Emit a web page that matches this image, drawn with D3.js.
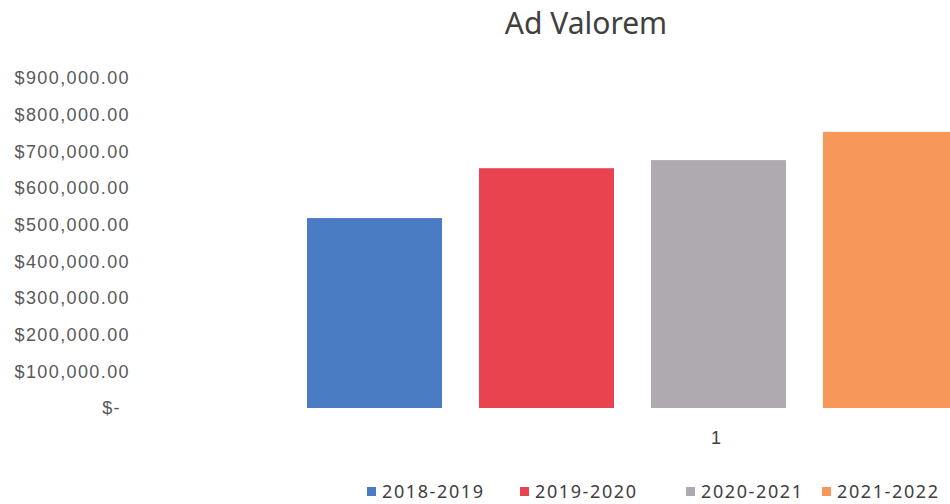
<!DOCTYPE html>
<html>
<head>
<meta charset="utf-8">
<script src="https://cdn.jsdelivr.net/npm/d3@7"></script>
<style>
  body { margin: 0; background: #fff; }
  svg { display: block; font-family: "Noto Sans", "Open Sans", sans-serif; }
</style>
</head>
<body>
<svg id="chart" width="950" height="504"></svg>
<script>
var categories = ["1"];
var seriesNames = ["2018-2019", "2019-2020", "2020-2021", "2021-2022"];
var seriesValues = [518000, 654000, 676000, 753000];
var seriesColors = ["#4a7cc4", "#e8434f", "#aeaab0", "#f7975a"];
var yTicks = [0, 100000, 200000, 300000, 400000, 500000, 600000, 700000, 800000, 900000];

var svg = d3.select("#chart");

var yScale = d3.scaleLinear()
    .domain([0, 900000])
    .range([408, 78]);

// category axis, the plot runs past the right edge of the picture
var xScale = d3.scaleBand()
    .domain(categories)
    .range([190, 1242]);

var barScale = d3.scaleBand()
    .domain(seriesNames)
    .range([307, 958])
    .paddingInner(0.215);

var fmt = d3.format(",.2f");

svg.append("text")
    .attr("x", 586)
    .attr("y", 34)
    .attr("text-anchor", "middle")
    .style("font-size", "30px")
    .style("fill", "#404040")
    .text("Ad Valorem");

var yAxis = d3.axisLeft(yScale)
    .tickValues(yTicks)
    .tickSize(0)
    .tickPadding(0)
    .tickFormat(function (d) {
        return d === 0 ? "$-" : "$" + fmt(d);
    });

var yg = svg.append("g")
    .attr("transform", "translate(130,0)")
    .call(yAxis);
yg.select(".domain").remove();
yg.selectAll("text")
    .style("font-size", "18px")
    .style("letter-spacing", "1.4px")
    .style("fill", "#595959")
    .attr("dx", function (d) { return d === 0 ? -9 : 0; });

svg.append("g")
    .selectAll("rect")
    .data(seriesValues)
    .enter()
    .append("rect")
    .attr("x", function (d, i) { return barScale(seriesNames[i]); })
    .attr("y", function (d) { return yScale(d); })
    .attr("width", barScale.bandwidth())
    .attr("height", function (d) { return yScale(0) - yScale(d); })
    .attr("fill", function (d, i) { return seriesColors[i]; });

var xAxis = d3.axisBottom(xScale).tickSize(0).tickPadding(0);
var xg = svg.append("g")
    .attr("transform", "translate(0,431)")
    .call(xAxis);
xg.select(".domain").remove();
xg.selectAll("text")
    .attr("dy", "0.71em")
    .style("font-size", "18px")
    .style("fill", "#404040");

var legendX = [367, 520, 686, 822];
var legend = svg.append("g")
    .selectAll("g")
    .data(seriesNames)
    .enter()
    .append("g")
    .attr("transform", function (d, i) { return "translate(" + legendX[i] + ",490)"; });

legend.append("rect")
    .attr("x", 0)
    .attr("y", -3)
    .attr("width", 9)
    .attr("height", 9)
    .attr("fill", function (d, i) { return seriesColors[i]; });

legend.append("text")
    .attr("x", 15)
    .attr("y", 2)
    .attr("dy", "0.35em")
    .style("font-size", "18px")
    .style("letter-spacing", "1.6px")
    .style("fill", "#404040")
    .text(function (d) { return d; });
</script>
</body>
</html>
